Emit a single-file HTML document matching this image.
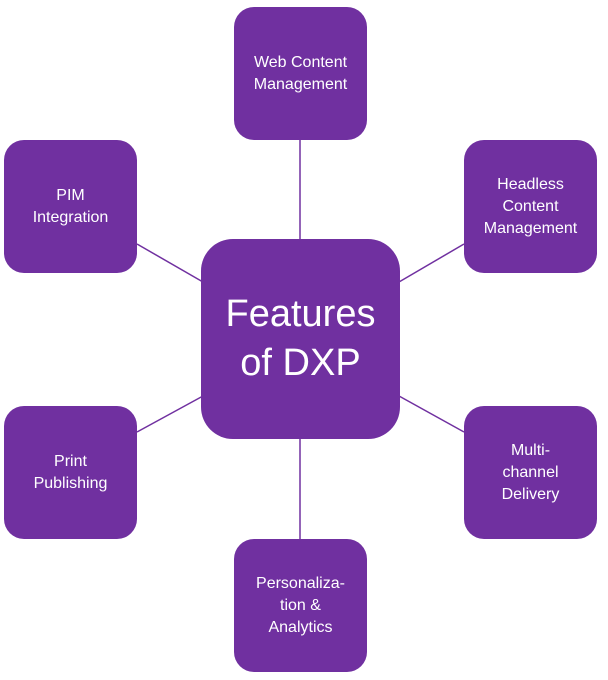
<!DOCTYPE html>
<html><head><style>
body{margin:0;width:608px;height:680px;background:#fff;position:relative;overflow:hidden;font-family:"Liberation Sans",sans-serif}
.b{position:absolute;width:133px;height:133px;background:#7030A0;border-radius:20px;color:#fff;display:flex;align-items:center;justify-content:center;text-align:center;font-size:16px;line-height:22px}
.c{position:absolute;left:201px;top:239px;width:199px;height:200px;background:#7030A0;border-radius:32px;color:#fff;display:flex;align-items:center;justify-content:center;text-align:center;font-size:38px;line-height:49px}
svg{position:absolute;left:0;top:0}
</style></head><body>
<svg width="608" height="680"><g stroke="#7030A0" stroke-width="1.5">
<line x1="300" y1="140" x2="300" y2="240"/>
<line x1="300" y1="438" x2="300" y2="540"/>
<line x1="137" y1="244" x2="203" y2="282"/>
<line x1="464" y1="244" x2="399" y2="282"/>
<line x1="137" y1="432" x2="203" y2="396"/>
<line x1="464" y1="432" x2="399" y2="396"/>
</g></svg>
<div class="b" style="left:234px;top:7px">Web Content<br>Management</div>
<div class="b" style="left:4px;top:140px">PIM<br>Integration</div>
<div class="b" style="left:464px;top:140px">Headless<br>Content<br>Management</div>
<div class="c">Features<br>of DXP</div>
<div class="b" style="left:4px;top:406px">Print<br>Publishing</div>
<div class="b" style="left:464px;top:406px">Multi-<br>channel<br>Delivery</div>
<div class="b" style="left:234px;top:539px">Personaliza-<br>tion &amp;<br>Analytics</div>
</body></html>
